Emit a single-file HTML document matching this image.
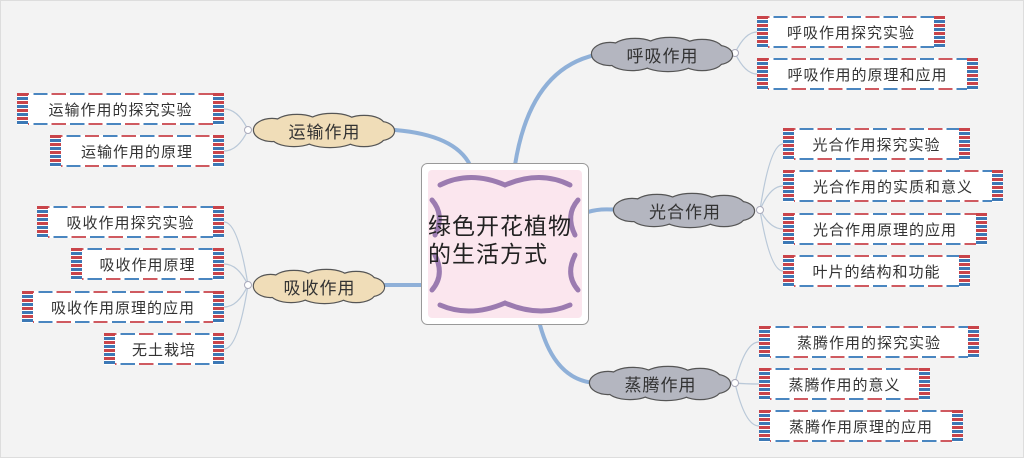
<!DOCTYPE html>
<html><head><meta charset="utf-8"><style>
body{margin:0;width:1024px;height:458px;background:#f3f3f3;position:relative;overflow:hidden;font-family:"Liberation Sans","Noto Sans CJK SC",sans-serif;}
.b{position:absolute;height:32px;box-sizing:border-box;background:#fff;
 border-top:2px solid;border-bottom:2px solid;border-image:repeating-linear-gradient(90deg,#cf5a60 0 14px,#fff 14px 18px,#4a86c0 18px 32px,#fff 32px 36px) 2;
 font-size:15px;color:#333;display:flex;align-items:center;justify-content:center;letter-spacing:1px;}
.b::before,.b::after{content:"";position:absolute;top:-2px;bottom:-2px;width:11px;background:repeating-linear-gradient(180deg,#c9444a 0 3px,#fff 3px 4px,#3c78b5 4px 7px,#fff 7px 8px);}
.b::before{left:0}.b::after{right:0}
.c{position:absolute;font-size:17px;color:#333;display:flex;align-items:center;justify-content:center;letter-spacing:1px}
</style></head><body>
<svg width="1024" height="458" style="position:absolute;left:0;top:0">
<defs>
<g id="cl">
<ellipse cx="20" cy="16" rx="18" ry="11"/><ellipse cx="45" cy="10" rx="22" ry="9"/><ellipse cx="80" cy="9" rx="24" ry="9"/><ellipse cx="112" cy="11" rx="20" ry="9"/><ellipse cx="128" cy="17" rx="14" ry="9"/>
<ellipse cx="112" cy="23" rx="20" ry="9"/><ellipse cx="78" cy="24" rx="26" ry="9"/><ellipse cx="42" cy="23" rx="22" ry="9"/><ellipse cx="72" cy="16" rx="58" ry="11"/>
</g>
</defs>
<rect x="0.5" y="0.5" width="1023" height="457" fill="none" stroke="#ddd"/>
<g fill="none" stroke="#8fb0d8" stroke-width="4" stroke-linecap="round">
<path d="M515 165 Q530 70 595 55"/>
<path d="M588 212 Q600 208 618 210"/>
<path d="M540 325 Q555 380 595 383"/>
<path d="M470 165 Q455 135 395 130"/>
<path d="M421 285 Q405 285 385 285"/>
</g>
<g fill="none" stroke="#b9c8d8" stroke-width="1.2">
<path d="M735 53 Q745 32 757 32"/><path d="M735 53 Q745 74 757 74"/>
<path d="M760 210 Q770 144 783 144"/><path d="M760 210 Q770 186 783 186"/><path d="M760 210 Q770 229 783 229"/><path d="M760 210 Q770 271 783 271"/>
<path d="M735 383 Q745 342 759 342"/><path d="M735 383 Q745 384 759 384"/><path d="M735 383 Q745 426 759 426"/>
<path d="M248 130 Q238 109 224 109"/><path d="M248 130 Q238 151 224 151"/>
<path d="M248 285 Q238 222 224 222"/><path d="M248 285 Q238 264 224 264"/><path d="M248 285 Q238 307 224 307"/><path d="M248 285 Q238 349 224 349"/>
</g>
<g fill="#fff" stroke="#aab" stroke-width="1">
<circle cx="735" cy="53" r="3.5"/><circle cx="760" cy="210" r="3.5"/><circle cx="735" cy="383" r="3.5"/><circle cx="248" cy="130" r="3.5"/><circle cx="248" cy="285" r="3.5"/>
</g>
<g transform="translate(590,38)"><use href="#cl" fill="none" stroke="#555" stroke-width="2.4"/><use href="#cl" fill="#b4b6c0"/></g>
<g transform="translate(612,194)"><use href="#cl" fill="none" stroke="#555" stroke-width="2.4"/><use href="#cl" fill="#b4b6c0"/></g>
<g transform="translate(588,367)"><use href="#cl" fill="none" stroke="#555" stroke-width="2.4"/><use href="#cl" fill="#b4b6c0"/></g>
<g transform="translate(252,114)"><use href="#cl" fill="none" stroke="#555" stroke-width="2.4"/><use href="#cl" fill="#f0ddb8"/></g>
<g transform="translate(252,270) scale(0.93,1)"><use href="#cl" fill="none" stroke="#555" stroke-width="2.4"/><use href="#cl" fill="#f0ddb8"/></g>
<rect x="421.5" y="163.5" width="167" height="161" rx="6" fill="#fff" stroke="#999"/>
<rect x="428" y="170" width="154" height="148" rx="4" fill="#fbe6ee"/>
<g fill="none" stroke="#9b7bb0" stroke-width="5" stroke-linecap="round">
<path d="M440 185 Q470 170 505 185 Q540 170 570 185"/>
<path d="M440 305 Q470 318 505 303 Q540 318 570 305"/>
<path d="M432 200 Q445 215 435 235"/><path d="M578 200 Q565 215 575 235"/>
<path d="M435 255 Q445 275 432 290"/><path d="M575 255 Q565 275 578 290"/>
</g>
</svg>
<div class="c" style="left:428px;top:212px;width:156px;height:60px;font-size:23px;line-height:28px;text-align:left;display:block;color:#222">绿色开花植物<br>的生活方式</div>
<div class="c" style="left:590px;top:38px;width:145px;height:32px">呼吸作用</div>
<div class="c" style="left:612px;top:194px;width:146px;height:32px">光合作用</div>
<div class="c" style="left:588px;top:367px;width:145px;height:32px">蒸腾作用</div>
<div class="c" style="left:252px;top:114px;width:145px;height:32px">运输作用</div>
<div class="c" style="left:252px;top:270px;width:135px;height:32px">吸收作用</div>
<div class="b" style="left:757px;top:16px;width:188px">呼吸作用探究实验</div>
<div class="b" style="left:757px;top:58px;width:221px">呼吸作用的原理和应用</div>
<div class="b" style="left:783px;top:128px;width:187px">光合作用探究实验</div>
<div class="b" style="left:783px;top:170px;width:220px">光合作用的实质和意义</div>
<div class="b" style="left:783px;top:213px;width:204px">光合作用原理的应用</div>
<div class="b" style="left:783px;top:255px;width:187px">叶片的结构和功能</div>
<div class="b" style="left:759px;top:326px;width:220px">蒸腾作用的探究实验</div>
<div class="b" style="left:759px;top:368px;width:171px">蒸腾作用的意义</div>
<div class="b" style="left:759px;top:410px;width:204px">蒸腾作用原理的应用</div>
<div class="b" style="left:17px;top:93px;width:207px">运输作用的探究实验</div>
<div class="b" style="left:50px;top:135px;width:174px">运输作用的原理</div>
<div class="b" style="left:37px;top:206px;width:187px">吸收作用探究实验</div>
<div class="b" style="left:71px;top:248px;width:153px">吸收作用原理</div>
<div class="b" style="left:22px;top:291px;width:202px">吸收作用原理的应用</div>
<div class="b" style="left:104px;top:333px;width:120px">无土栽培</div>
</body></html>
